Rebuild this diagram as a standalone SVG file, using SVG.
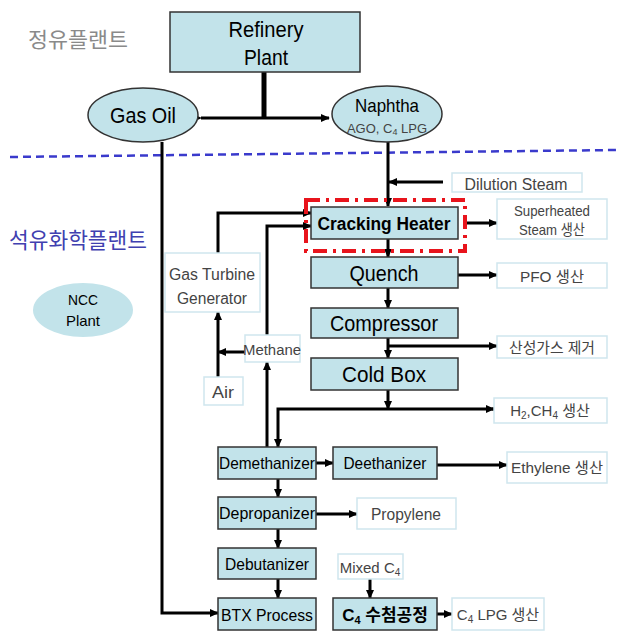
<svg xmlns="http://www.w3.org/2000/svg" width="617" height="631" viewBox="0 0 617 631">
<defs>
<style>
.n{fill:#c2e3ea;stroke:#333;stroke-width:1.5}
.w{fill:#fff;stroke:#cfe6ee;stroke-width:1.5}
.t{font-family:"Liberation Sans","Noto Sans CJK KR",sans-serif;text-anchor:middle;fill:#000}
.g{font-family:"Liberation Sans","Noto Sans CJK KR",sans-serif;text-anchor:middle;fill:#444}
.l{fill:none;stroke:#000;stroke-width:3}
</style>
<marker id="a" viewBox="0 0 10 10" refX="9" refY="5" markerWidth="9" markerHeight="9" markerUnits="userSpaceOnUse" orient="auto"><path d="M0,0.5 L10,5 L0,9.5 z" fill="#000"/></marker>
</defs>
<rect width="617" height="631" fill="#fff"/>
<text class="g" x="78" y="47" font-size="21" style="fill:#8a8a8a" textLength="100" lengthAdjust="spacingAndGlyphs">정유플랜트</text>
<text class="t" x="78" y="248" font-size="22" style="fill:#4040b0" textLength="138" lengthAdjust="spacingAndGlyphs">석유화학플랜트</text>
<line x1="10" y1="157" x2="617" y2="150" stroke="#3a3acc" stroke-width="2.5" stroke-dasharray="8 5"/>

<g id="connectors">
<line x1="264" y1="72" x2="264" y2="118" stroke="#000" stroke-width="5"/>
<line class="l" x1="201" y1="118" x2="329" y2="118" marker-start="url(#a)" marker-end="url(#a)"/>
<line class="l" x1="388" y1="142" x2="388" y2="206" marker-end="url(#a)"/>
<line class="l" x1="443" y1="182" x2="389" y2="182" marker-end="url(#a)"/>
<line class="l" x1="463" y1="223" x2="497" y2="223" marker-end="url(#a)"/>
<line class="l" x1="388" y1="239" x2="388" y2="257" marker-end="url(#a)"/>
<line class="l" x1="458" y1="275" x2="497" y2="275" marker-end="url(#a)"/>
<line class="l" x1="388" y1="288" x2="388" y2="308" marker-end="url(#a)"/>
<line class="l" x1="388" y1="338" x2="388" y2="358" marker-end="url(#a)"/>
<line class="l" x1="388" y1="346" x2="497" y2="346" marker-end="url(#a)"/>
<line class="l" x1="388" y1="390" x2="388" y2="409" marker-end="url(#a)"/>
<polyline class="l" points="494,409 278,409 278,447" marker-end="url(#a)"/>
<line class="l" x1="492" y1="409" x2="494" y2="409" marker-end="url(#a)"/>
<polyline class="l" points="218,253 218,213 311,213" marker-end="url(#a)"/>
<polyline class="l" points="267,335 267,226 311,226" marker-end="url(#a)"/>
<line class="l" x1="267" y1="447" x2="267" y2="362" marker-end="url(#a)"/>
<line class="l" x1="245" y1="352" x2="218" y2="352" marker-end="url(#a)"/>
<line class="l" x1="218" y1="377" x2="218" y2="312" marker-end="url(#a)"/>
<polyline class="l" points="162,142 162,613 218,613" marker-end="url(#a)"/>
<line class="l" x1="316" y1="463" x2="333" y2="463" marker-end="url(#a)"/>
<line class="l" x1="437" y1="465" x2="507" y2="465" marker-end="url(#a)"/>
<line class="l" x1="316" y1="514" x2="357" y2="514" marker-end="url(#a)"/>
<line class="l" x1="278" y1="479" x2="278" y2="497" marker-end="url(#a)"/>
<line class="l" x1="278" y1="529" x2="278" y2="548" marker-end="url(#a)"/>
<line class="l" x1="278" y1="579" x2="278" y2="598" marker-end="url(#a)"/>
<line class="l" x1="370" y1="579" x2="370" y2="598" marker-end="url(#a)"/>
<line class="l" x1="437" y1="614" x2="452" y2="614" marker-end="url(#a)"/>
</g>

<g id="refinery"><rect class="n" x="170" y="12" width="190" height="60"/>
<text class="t" x="266" y="37" font-size="22" textLength="75" lengthAdjust="spacingAndGlyphs">Refinery</text><text class="t" x="266" y="65" font-size="22" textLength="44" lengthAdjust="spacingAndGlyphs">Plant</text></g>
<g id="gasoil"><ellipse class="n" cx="143" cy="115" rx="55" ry="27"/>
<text class="t" x="143" y="123" font-size="22" textLength="66" lengthAdjust="spacingAndGlyphs">Gas Oil</text></g>
<g id="naphtha"><ellipse class="n" cx="387" cy="114" rx="55" ry="28"/>
<text class="t" x="387" y="112" font-size="19" textLength="64" lengthAdjust="spacingAndGlyphs">Naphtha</text>
<text class="g" x="387" y="133" font-size="13">AGO, C<tspan font-size="9" dy="2">4</tspan><tspan dy="-2"> LPG</tspan></text></g>
<g id="ncc"><ellipse class="n" cx="83" cy="310" rx="50" ry="27" style="stroke:none"/>
<text class="t" x="83" y="305" font-size="15" textLength="30" lengthAdjust="spacingAndGlyphs">NCC</text><text class="t" x="83" y="326" font-size="15" textLength="34" lengthAdjust="spacingAndGlyphs">Plant</text></g>

<g id="dilution"><rect class="w" x="452" y="173" width="130" height="19"/>
<text class="g" x="516" y="190" font-size="16" textLength="103" lengthAdjust="spacingAndGlyphs">Dilution Steam</text></g>
<g id="cracking"><rect x="306" y="200" width="159" height="51" fill="none" stroke="#e8141c" stroke-width="4" stroke-dasharray="14 6 3 6"/>
<rect class="n" x="311" y="207" width="147" height="32"/>
<text class="t" x="384" y="230" font-size="18" font-weight="bold" textLength="133" lengthAdjust="spacingAndGlyphs">Cracking Heater</text></g>
<g id="superheated"><rect class="w" x="497" y="199" width="110" height="40"/>
<text class="g" x="552" y="216" font-size="14.5" textLength="76" lengthAdjust="spacingAndGlyphs">Superheated</text><text class="g" x="552" y="235" font-size="14.5" textLength="66" lengthAdjust="spacingAndGlyphs">Steam 생산</text></g>
<g id="quench"><rect class="n" x="311" y="257" width="147" height="31"/>
<text class="t" x="384" y="281" font-size="22" textLength="69" lengthAdjust="spacingAndGlyphs">Quench</text></g>
<g id="pfo"><rect class="w" x="497" y="263" width="110" height="25"/>
<text class="g" x="552" y="282" font-size="15" textLength="64" lengthAdjust="spacingAndGlyphs">PFO 생산</text></g>
<g id="compressor"><rect class="n" x="311" y="308" width="147" height="30"/>
<text class="t" x="384" y="331" font-size="22" textLength="108" lengthAdjust="spacingAndGlyphs">Compressor</text></g>
<g id="acidgas"><rect class="w" x="497" y="336" width="110" height="22"/>
<text class="g" x="552" y="353" font-size="15" textLength="86" lengthAdjust="spacingAndGlyphs">산성가스 제거</text></g>
<g id="coldbox"><rect class="n" x="311" y="358" width="147" height="32"/>
<text class="t" x="384" y="382" font-size="22" textLength="84" lengthAdjust="spacingAndGlyphs">Cold Box</text></g>
<g id="h2ch4"><rect class="w" x="494" y="398" width="113" height="25"/>
<text class="g" x="550" y="416" font-size="15">H<tspan font-size="10" dy="3">2</tspan><tspan dy="-3">,CH</tspan><tspan font-size="10" dy="3">4</tspan><tspan dy="-3"> 생산</tspan></text></g>
<g id="gtg"><rect class="w" x="165" y="253" width="95" height="59"/>
<text class="g" x="212" y="280" font-size="16" textLength="86" lengthAdjust="spacingAndGlyphs">Gas Turbine</text><text class="g" x="212" y="304" font-size="16" textLength="70" lengthAdjust="spacingAndGlyphs">Generator</text></g>
<g id="methane"><rect class="w" x="245" y="335" width="55" height="27"/>
<text class="g" x="272" y="355" font-size="15.5" textLength="58" lengthAdjust="spacingAndGlyphs">Methane</text></g>
<g id="air"><rect class="w" x="204" y="377" width="39" height="28"/>
<text class="g" x="223" y="398" font-size="16" textLength="22" lengthAdjust="spacingAndGlyphs">Air</text></g>
<g id="demethanizer"><rect class="n" x="218" y="447" width="98" height="32"/>
<text class="t" x="267" y="469" font-size="16.5" textLength="96" lengthAdjust="spacingAndGlyphs">Demethanizer</text></g>
<g id="deethanizer"><rect class="n" x="333" y="447" width="104" height="32"/>
<text class="t" x="385" y="469" font-size="16.5" textLength="83" lengthAdjust="spacingAndGlyphs">Deethanizer</text></g>
<g id="ethylene"><rect class="w" x="507" y="452" width="100" height="31"/>
<text class="g" x="557" y="473" font-size="15" textLength="92" lengthAdjust="spacingAndGlyphs">Ethylene 생산</text></g>
<g id="depropanizer"><rect class="n" x="218" y="497" width="98" height="32"/>
<text class="t" x="267" y="519" font-size="16.5" textLength="96" lengthAdjust="spacingAndGlyphs">Depropanizer</text></g>
<g id="propylene"><rect class="w" x="357" y="498" width="99" height="31"/>
<text class="g" x="406" y="520" font-size="16" textLength="70" lengthAdjust="spacingAndGlyphs">Propylene</text></g>
<g id="debutanizer"><rect class="n" x="218" y="548" width="98" height="31"/>
<text class="t" x="267" y="570" font-size="16.5" textLength="84" lengthAdjust="spacingAndGlyphs">Debutanizer</text></g>
<g id="mixedc4"><rect class="w" x="338" y="554" width="65" height="25"/>
<text class="g" x="370" y="573" font-size="15">Mixed C<tspan font-size="10" dy="3">4</tspan></text></g>
<g id="btx"><rect class="n" x="218" y="598" width="98" height="32"/>
<text class="t" x="267" y="621" font-size="16.5" textLength="92" lengthAdjust="spacingAndGlyphs">BTX Process</text></g>
<g id="c4hydro"><rect class="n" x="333" y="598" width="104" height="32"/>
<text class="t" x="385" y="621" font-size="17" font-weight="bold">C<tspan font-size="11" dy="3">4</tspan><tspan dy="-3"> 수첨공정</tspan></text></g>
<g id="c4lpg"><rect class="w" x="452" y="598" width="92" height="32"/>
<text class="g" x="498" y="620" font-size="15">C<tspan font-size="10" dy="3">4</tspan><tspan dy="-3"> LPG 생산</tspan></text></g>
</svg>
